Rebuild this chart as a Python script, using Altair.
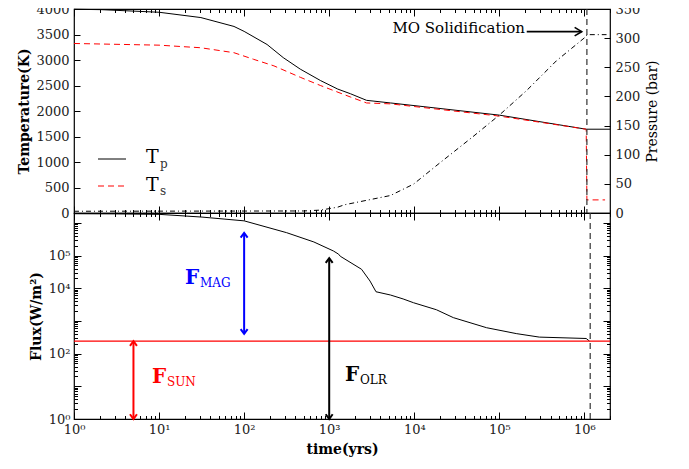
import altair as alt
import pandas as pd

# ---------------- data ----------------
# top panel: potential temperature Tp (solid black)
tp_time = [1, 2.1, 10, 31, 76, 100, 186, 288, 457, 794, 1260, 1780, 2750, 5250, 100000, 1050000, 2000000]
tp_temp = [3995, 3987, 3936, 3832, 3658, 3561, 3304, 3047, 2821, 2595, 2430, 2338, 2209, 2158, 1919, 1643, 1643]

# surface temperature Ts (dashed red)
ts_time = [1, 10, 31, 76, 129, 224, 457, 794, 1780, 2750, 5250, 100000, 1050000, 1070000, 1750000]
ts_temp = [3324, 3291, 3240, 3143, 3014, 2885, 2661, 2498, 2274, 2158, 2140, 1900, 1643, 257, 257]

# atmospheric pressure (dash-dot black, right axis)
p_time = [1, 500, 794, 1260, 1500, 5250, 9800, 20000, 49000, 100000, 209000, 468000, 1050000, 1070000, 1820000]
p_bar = [3, 3.5, 5, 10, 14, 30, 49.5, 86, 131, 168, 210, 261, 303, 306, 306]

# bottom panel: outgoing long-wave radiation
olr_time = [1, 3, 10, 32, 100, 316, 660, 1120, 1290, 1350, 2400, 3020, 3550, 5250, 7400, 9800,
            18200, 28800, 70800, 158000, 295000, 1050000, 1150000]
olr_flux = [1.9e6, 1.88e6, 1.82e6, 1.5e6, 1.15e6, 5.0e5, 2.6e5, 1.38e5, 1.1e5, 9.5e4, 3.8e4, 1.66e4,
            7.8e3, 6.2e3, 4.7e3, 3.6e3, 2.2e3, 1.26e3, 620, 410, 320, 290, 240]

f_sun = 240                      # absorbed solar flux (red horizontal line)
solid_time_top = 1070000         # MO solidification (dashed vertical line), top panel
solid_time_bot = 1170000         # bottom panel

# double arrows in the bottom panel
arrow_names = ["MAG", "SUN", "OLR"]
arrow_time = [100, 5, 1000]
arrow_top = [4.9e5, 240, 8.3e4]
arrow_bottom = [400, 1, 1]
arrow_colors = ["#0000ff", "#ff0000", "#000000"]

# annotation arrow "MO Solidification"
mo_time_from = 210000
mo_time_to = 930000
mo_temp = 3556

# tick label strings
temp_ticks = [0, 500, 1000, 1500, 2000, 2500, 3000, 3500, 4000]
press_ticks = [0, 50, 100, 150, 200, 250, 300, 350]
decade_labels = {1: "10⁰", 10: "10¹", 100: "10²", 1000: "10³", 10000: "10⁴", 100000: "10⁵", 1000000: "10⁶"}
flux_labelled = [1, 100, 10000, 100000]

# ---------------- frames ----------------
tp_df = pd.DataFrame({"t": tp_time, "T": tp_temp})
ts_df = pd.DataFrame({"t": ts_time, "T": ts_temp})
p_df = pd.DataFrame({"t": p_time, "P": p_bar})
olr_df = pd.DataFrame({"t": olr_time, "F": olr_flux})
arr_df = pd.DataFrame({"name": arrow_names, "t": arrow_time, "top": arrow_top,
                       "bottom": arrow_bottom, "color": arrow_colors})
mo_df = pd.DataFrame({"t": [mo_time_from], "t2": [mo_time_to], "T": [mo_temp]})
mo_head_df = pd.DataFrame({"t": [mo_time_to], "T": [mo_temp]})
one = pd.DataFrame({"a": [0]})

FONT = "DejaVu Serif"
W, H1, H2 = 536, 204, 206

log_ticks = [m * 10 ** k for k in range(0, 7) for m in range(1, 10) if m * 10 ** k <= 2000000]
decades = "[1,10,100,1000,10000,100000,1000000]"
LOG_TICK = f"indexof({decades}, datum.value) >= 0 ? -7 : -3.5"

x_scale = alt.Scale(type="log", domain=[1, 2000000])
T_scale = alt.Scale(domain=[0, 4000])
P_scale = alt.Scale(domain=[0, 350])
F_scale = alt.Scale(type="log", domain=[1, 2000000])

x_label_expr = " : ".join(f"datum.value == {k} ? '{v}'" for k, v in decade_labels.items()) + " : ''"
f_label_expr = " : ".join(f"datum.value == {k} ? '{decade_labels[k]}'" for k in flux_labelled) + " : ''"

common = dict(domain=False, grid=False, tickColor="black", labelFont=FONT, labelFontSize=13,
              labelColor="#222", titleFont=FONT, titleFontSize=14, titleColor="black",
              labelFlush=False, labelOverlap=False)
bare = dict(labels=False, title=None, minExtent=0, maxExtent=0)

ax_x_top_panel_bottom = alt.Axis(orient="bottom", values=log_ticks,
                                 tickSize=alt.ExprRef(expr=LOG_TICK), **bare, **common)
ax_x_top_panel_top = alt.Axis(orient="top", values=log_ticks,
                              tickSize=alt.ExprRef(expr=LOG_TICK), **bare, **common)
ax_x_bottom = alt.Axis(orient="bottom", values=log_ticks, labelExpr=x_label_expr, title="time(yrs)",
                       titleFontWeight="bold", labelPadding=11, titlePadding=3,
                       tickSize=alt.ExprRef(expr=LOG_TICK), **common)
ax_x_bottom_top = alt.Axis(orient="top", values=log_ticks,
                           tickSize=alt.ExprRef(expr=LOG_TICK), **bare, **common)
ax_T = alt.Axis(orient="left", values=temp_ticks, format="d", title="Temperature(K)", titleFontWeight="bold",
                labelPadding=11, titlePadding=4, tickSize=alt.ExprRef(expr="-6"), **common)
ax_P = alt.Axis(orient="right", values=press_ticks, format="d", title="Pressure (bar)", titleFontWeight="normal",
                titleAngle=270, titleBaseline="top", labelPadding=11, titlePadding=6,
                tickSize=alt.ExprRef(expr="-6"), **common)
ax_F = alt.Axis(orient="left", values=log_ticks, labelExpr=f_label_expr, title="Flux(W/m²)",
                titleFontWeight="bold", labelPadding=11, titlePadding=5,
                tickSize=alt.ExprRef(expr=LOG_TICK), **common)
ax_F_right = alt.Axis(orient="right", values=log_ticks,
                      tickSize=alt.ExprRef(expr=LOG_TICK), **bare, **common)


def xt(field="t", axis=ax_x_top_panel_bottom):
    return alt.X(f"{field}:Q", scale=x_scale, axis=axis)


def yT(field="T"):
    return alt.Y(f"{field}:Q", scale=T_scale, axis=ax_T)


# ---------------- top panel ----------------
tp_line = alt.Chart(tp_df).mark_line(color="black", strokeWidth=1).encode(x=xt(), y=yT())
ts_line = alt.Chart(ts_df).mark_line(color="#ff0000", strokeWidth=1, strokeDash=[6, 4]).encode(x=xt(), y=yT())
vrule_top = alt.Chart(pd.DataFrame({"t": [solid_time_top]})).mark_rule(
    color="#333", strokeWidth=1.2, strokeDash=[6, 4]).encode(x=xt())
mo_arrow = alt.Chart(mo_df).mark_rule(color="black", strokeWidth=1.6).encode(
    x=xt(), x2="t2:Q", y=yT())
mo_head = alt.Chart(mo_head_df).mark_point(
    shape="M -1 -0.6 L 0 0 L -1 0.6", filled=False, color="black", strokeWidth=1.6, size=200, opacity=1
).encode(x=xt(), y=yT())
mo_text = alt.Chart(one).mark_text(text="MO Solidification", font=FONT, fontSize=15, align="right",
                                   baseline="middle", color="black").encode(
    x=alt.value(451), y=alt.value(19))

leg_tp = alt.Chart(one).mark_rule(color="black", strokeWidth=1).encode(
    x=alt.value(24), x2=alt.value(52), y=alt.value(150))
leg_ts = alt.Chart(one).mark_rule(color="#ff0000", strokeWidth=1, strokeDash=[6, 4]).encode(
    x=alt.value(24), x2=alt.value(52), y=alt.value(177))
leg_T1 = alt.Chart(one).mark_text(text="T", font=FONT, fontSize=19, align="left", baseline="middle",
                                  color="black").encode(x=alt.value(72), y=alt.value(148))
leg_p = alt.Chart(one).mark_text(text="p", font=FONT, fontSize=12, align="left", baseline="middle",
                                 color="#333").encode(x=alt.value(86), y=alt.value(155))
leg_T2 = alt.Chart(one).mark_text(text="T", font=FONT, fontSize=19, align="left", baseline="middle",
                                  color="black").encode(x=alt.value(72), y=alt.value(176))
leg_s = alt.Chart(one).mark_text(text="s", font=FONT, fontSize=12, align="left", baseline="middle",
                                 color="#333").encode(x=alt.value(86), y=alt.value(182))

top_temp = alt.layer(tp_line, ts_line, vrule_top, mo_arrow, mo_head, mo_text,
                     leg_tp, leg_ts, leg_T1, leg_p, leg_T2, leg_s)
top_press = alt.Chart(p_df).mark_line(color="black", strokeWidth=1, strokeDash=[5, 3, 1, 3]).encode(
    x=alt.X("t:Q", scale=x_scale, axis=ax_x_top_panel_top),
    y=alt.Y("P:Q", scale=P_scale, axis=ax_P))
top = alt.layer(top_temp, top_press).resolve_scale(y="independent").resolve_axis(
    x="independent", y="independent").properties(width=W, height=H1)


# ---------------- bottom panel ----------------
def xb(field="t"):
    return alt.X(f"{field}:Q", scale=x_scale, axis=ax_x_bottom)


def yF(field="F"):
    return alt.Y(f"{field}:Q", scale=F_scale, axis=ax_F)


olr_line = alt.Chart(olr_df).mark_line(color="black", strokeWidth=1).encode(x=xb(), y=yF())
sun_rule = alt.Chart(pd.DataFrame({"F": [f_sun]})).mark_rule(color="#ff0000", strokeWidth=1.2).encode(y=yF())
vrule_bot = alt.Chart(pd.DataFrame({"t": [solid_time_bot]})).mark_rule(
    color="#333", strokeWidth=1.2, strokeDash=[6, 4]).encode(x=xb())
arr_lines = alt.Chart(arr_df).mark_rule(strokeWidth=2).encode(
    x=xb(), y=yF("top"), y2="bottom:Q", color=alt.Color("color:N", scale=None))
arr_up = alt.Chart(arr_df).mark_point(
    shape="M -0.55 0.75 L 0 0 L 0.55 0.75", filled=False, strokeWidth=2, size=160, opacity=1).encode(
    x=xb(), y=yF("top"), color=alt.Color("color:N", scale=None))
arr_down = alt.Chart(arr_df).mark_point(
    shape="M -0.55 -0.75 L 0 0 L 0.55 -0.75", filled=False, strokeWidth=2, size=160, opacity=1).encode(
    x=xb(), y=yF("bottom"), color=alt.Color("color:N", scale=None))


def label(main, sub, color, x, y):
    a = alt.Chart(one).mark_text(text=main, font=FONT, fontSize=20, fontWeight="bold", align="left",
                                 baseline="middle", color=color).encode(x=alt.value(x), y=alt.value(y))
    b = alt.Chart(one).mark_text(text=sub, font=FONT, fontSize=12, align="left",
                                 baseline="middle", color=color).encode(x=alt.value(x + 15), y=alt.value(y + 5))
    return [a, b]


labels = (label("F", "MAG", "#0000ff", 111, 65) + label("F", "SUN", "#ff0000", 78, 164)
          + label("F", "OLR", "#000000", 271, 162))

bot_flux = alt.layer(olr_line, sun_rule, vrule_bot, arr_lines, arr_up, arr_down, *labels)
bot_ghost = alt.Chart(olr_df).mark_line(opacity=0).encode(
    x=alt.X("t:Q", scale=x_scale, axis=ax_x_bottom_top),
    y=alt.Y("F:Q", scale=F_scale, axis=ax_F_right))
bottom = alt.layer(bot_flux, bot_ghost).resolve_axis(x="independent", y="independent").properties(
    width=W, height=H2)

chart = alt.vconcat(top, bottom, spacing=0, bounds="flush").properties(
    padding={"top": -6, "left": 9, "right": 5, "bottom": 5}
).configure_view(stroke="black", strokeWidth=1.2)

chart.save("out.html", embed_options={"renderer": "svg", "actions": False})
